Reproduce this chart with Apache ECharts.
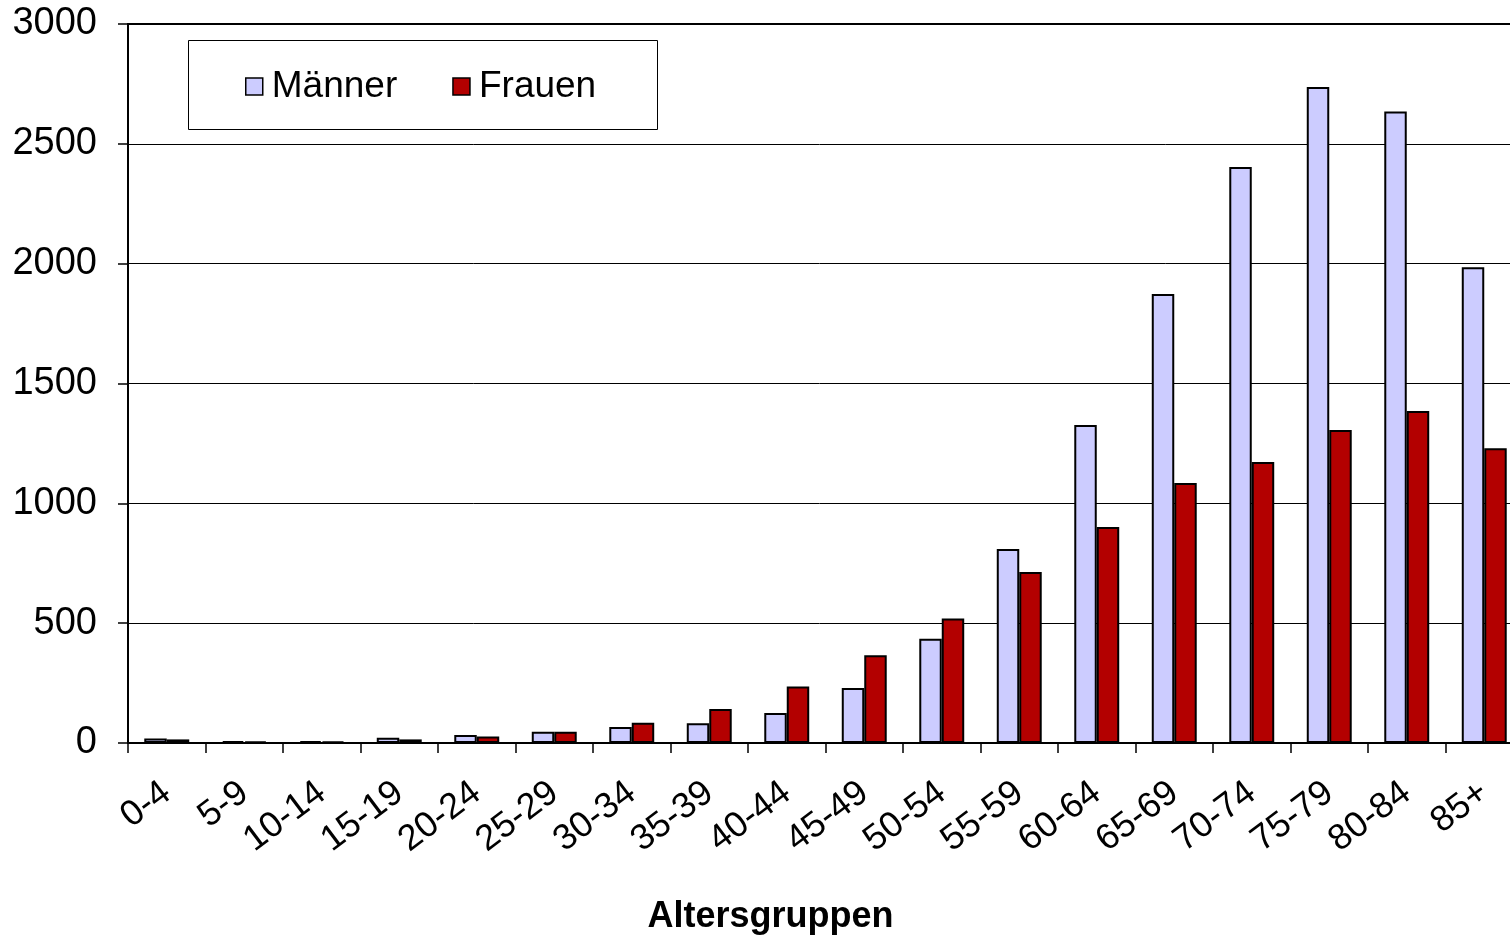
<!DOCTYPE html>
<html>
<head>
<meta charset="utf-8">
<script src="https://cdn.jsdelivr.net/npm/echarts@6/dist/echarts.min.js"></script>
<style>
html,body{margin:0;padding:0;background:#fff;}
#chart{width:1510px;height:935px;}
</style>
</head>
<body>
<div id="chart"></div>
<script>
const categories = ['0-4','5-9','10-14','15-19','20-24','25-29','30-34','35-39','40-44','45-49','50-54','55-59','60-64','65-69','70-74','75-79','80-84','85+'];
const maenner = [19, 8, 8, 22, 33, 47, 67, 82, 125, 229, 435, 809, 1327, 1873, 2403, 2737, 2635, 1985];
const frauen  = [15, 7, 6, 15, 27, 47, 85, 142, 236, 366, 519, 713, 901, 1085, 1172, 1306, 1385, 1230];
const yTicks = [0, 500, 1000, 1500, 2000, 2500, 3000];

const font = '"Liberation Sans", Arial, sans-serif';
const chart = echarts.init(document.getElementById('chart'), null, {renderer: 'canvas'});
chart.setOption({
  animation: false,
  backgroundColor: '#fff',
  grid: {left: 128, top: 24, width: 1395, bottom: 192, containLabel: false, outerBoundsMode: 'none',
         show: true, borderColor: '#000', borderWidth: 2, backgroundColor: 'transparent'},
  graphic: [{
    type: 'rect', left: 188, top: 40, z: 0,
    shape: {width: 469, height: 89},
    style: {fill: '#fff', stroke: '#000', lineWidth: 1}
  }],
  legend: {
    left: 240, top: 63, z: 10,
    itemWidth: 17, itemHeight: 17, itemGap: 55,
    icon: 'rect',
    itemStyle: {borderColor: '#000', borderWidth: 1.5},
    textStyle: {fontFamily: font, fontSize: 37, color: '#000', padding: [0, 0, 0, 4]},
    data: ['Männer', 'Frauen']
  },
  xAxis: {
    type: 'category',
    data: categories,
    axisLine: {lineStyle: {color: '#000', width: 2}},
    axisTick: {show: true, length: 10, lineStyle: {color: '#000', width: 1.5}},
    axisLabel: {rotate: 37, fontFamily: font, fontSize: 36, color: '#000', margin: 46, interval: 0},
    name: 'Altersgruppen',
    nameLocation: 'middle',
    nameGap: 156,
    nameTextStyle: {fontFamily: font, fontSize: 36, fontWeight: 'bold', color: '#000', padding: [0, 110, 0, 0]}
  },
  yAxis: {
    type: 'value',
    min: yTicks[0], max: yTicks[yTicks.length - 1], interval: 500,
    axisLine: {show: true, lineStyle: {color: '#000', width: 2}},
    axisTick: {show: true, length: 10, lineStyle: {color: '#000', width: 1.5}},
    axisLabel: {fontFamily: font, fontSize: 38, color: '#000', margin: 31, formatter: v => String(v)},
    splitLine: {lineStyle: {color: '#000', width: 1}}
  },
  series: [
    {name: 'Männer', type: 'bar', data: maenner, barGap: '0%', barCategoryGap: '42%',
     itemStyle: {color: '#CCCCFF', borderColor: '#000', borderWidth: 2}},
    {name: 'Frauen', type: 'bar', data: frauen, barGap: '0%', barCategoryGap: '42%',
     itemStyle: {color: '#B30000', borderColor: '#000', borderWidth: 2}}
  ]
});
</script>
</body>
</html>
